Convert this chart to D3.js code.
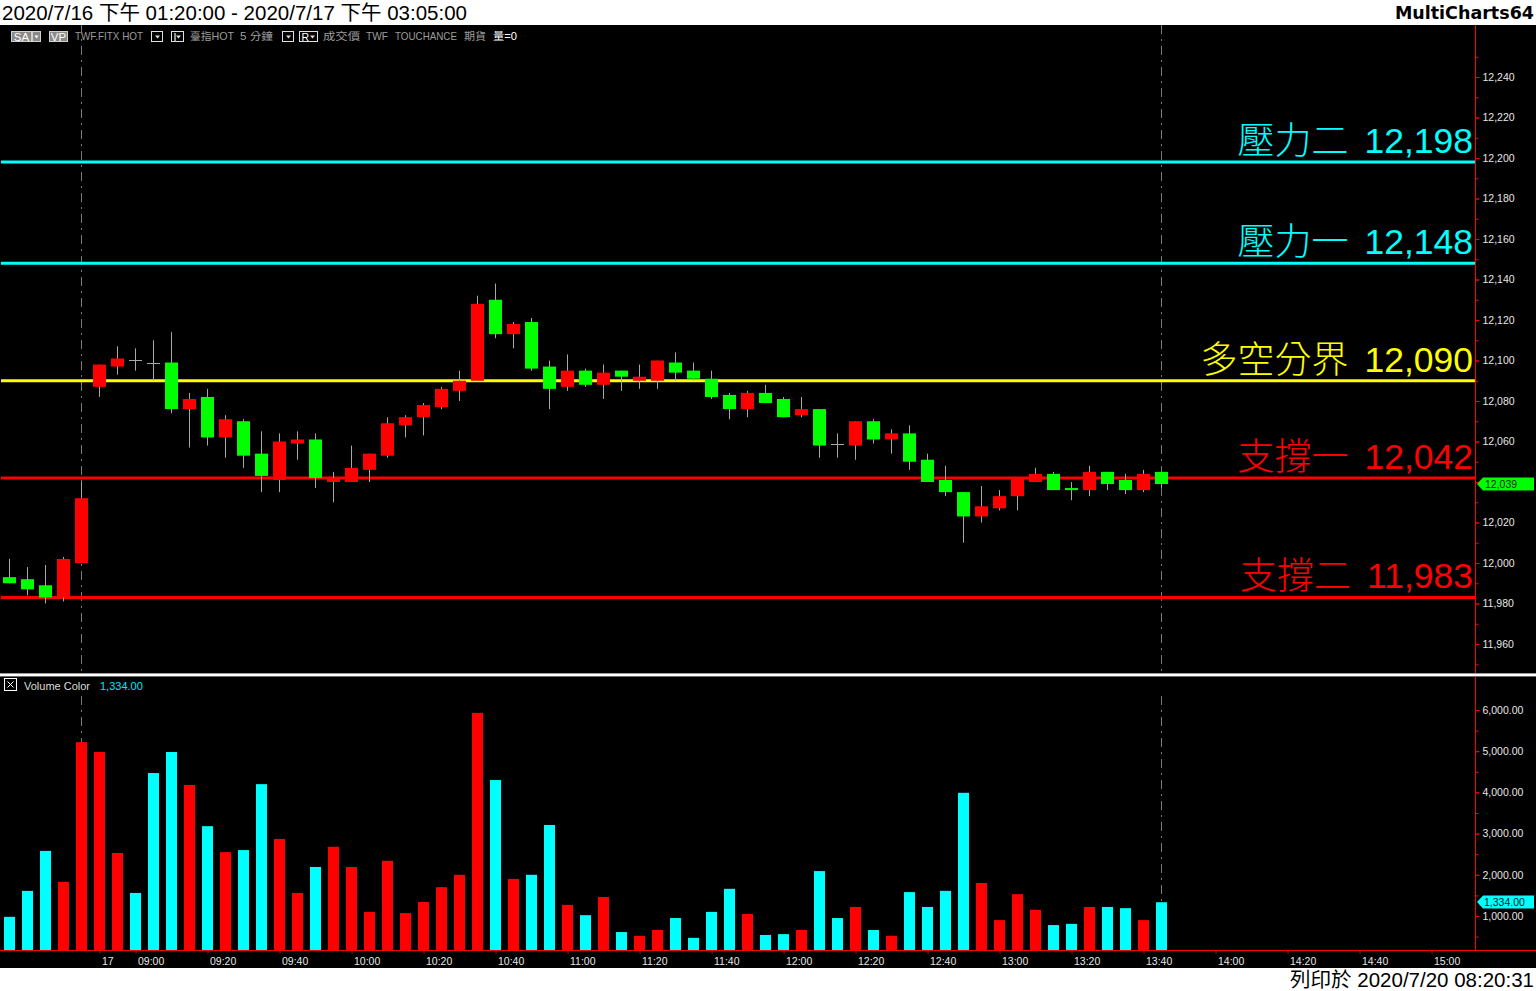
<!DOCTYPE html>
<html><head><meta charset="utf-8">
<script src="https://cdn.jsdelivr.net/npm/d3@7/dist/d3.min.js"></script>
<style>
html,body{margin:0;padding:0;background:#fff;overflow:hidden;}
svg{display:block;}
</style></head><body>
<svg id="c" width="1536" height="991"></svg>
<script>
// ---------------- DATA ----------------
const barTimes = ["13:25","13:30","13:35","13:40","13:45",
  "08:50","08:55","09:00","09:05","09:10","09:15","09:20","09:25","09:30","09:35","09:40","09:45","09:50","09:55",
  "10:00","10:05","10:10","10:15","10:20","10:25","10:30","10:35","10:40","10:45","10:50","10:55",
  "11:00","11:05","11:10","11:15","11:20","11:25","11:30","11:35","11:40","11:45","11:50","11:55",
  "12:00","12:05","12:10","12:15","12:20","12:25","12:30","12:35","12:40","12:45","12:50","12:55",
  "13:00","13:05","13:10","13:15","13:20","13:25","13:30","13:35","13:40","13:45"];
const openP  = [11993,11992,11989,11983,12000,12087,12097,12100,12099,12099,12076,12082,12062,12070,12054,12041,12059,12061,12040,12040,12046,12053,12068,12072,12077,12085,12090,12130,12113,12119,12097,12087,12095,12088,12095,12090,12090,12099,12095,12091,12083,12076,12084,12081,12073,12076,12059,12058,12070,12061,12064,12051,12041,12035,12023,12027,12033,12040,12044,12037,12036,12045,12041,12036,12045];
const highP  = [12002,11998,11999,12003,12040,12098,12107,12106,12110,12114,12084,12086,12073,12071,12065,12064,12065,12064,12045,12058,12054,12072,12073,12079,12087,12095,12132,12138,12119,12121,12100,12103,12096,12098,12095,12098,12100,12104,12099,12095,12084,12085,12088,12082,12082,12076,12064,12070,12071,12066,12068,12054,12048,12035,12038,12036,12042,12047,12045,12040,12048,12045,12044,12046,12045];
const lowP   = [11990,11984,11980,11981,12000,12082,12093,12095,12090,12074,12057,12058,12052,12047,12035,12035,12051,12037,12030,12040,12040,12052,12062,12063,12076,12080,12090,12111,12106,12095,12076,12085,12087,12081,12085,12086,12086,12090,12090,12081,12071,12072,12079,12072,12072,12052,12052,12051,12059,12054,12046,12040,12033,12010,12020,12026,12026,12040,12036,12031,12033,12036,12034,12035,12037];
const closeP = [11990,11987,11983,12002,12032,12098,12101,12100,12099,12076,12081,12062,12071,12053,12043,12060,12061,12042,12042,12047,12054,12069,12072,12078,12086,12090,12128,12113,12118,12096,12086,12095,12088,12094,12092,12092,12100,12094,12091,12082,12076,12084,12079,12072,12076,12058,12059,12070,12061,12064,12050,12040,12035,12023,12028,12033,12042,12044,12036,12036,12045,12039,12036,12044,12039];
const volumes = [980,1610,2580,1830,5220,4980,2530,1560,4470,4980,4180,3180,2550,2600,4200,2870,1560,2190,2680,2190,1100,2340,1070,1340,1700,2000,5930,4300,1900,2000,3210,1270,1020,1460,610,520,660,950,470,1100,1660,1050,540,560,660,2090,950,1220,660,520,1580,1220,1610,3990,1800,900,1530,1150,780,810,1220,1220,1190,900,1334];

const timeTickIndex  = [5,7,11,15,19,23,27,31,35,39,43,47,51,55,59,63,67,71,75,79];
const timeTickLabels = ["17","09:00","09:20","09:40","10:00","10:20","10:40","11:00","11:20","11:40","12:00","12:20","12:40","13:00","13:20","13:40","14:00","14:20","14:40","15:00"];
const priceTicks  = [11960,11980,12000,12020,12040,12060,12080,12100,12120,12140,12160,12180,12200,12220,12240];
const volumeTicks = [1000,2000,3000,4000,5000,6000];

const levelNames  = ["壓力二","壓力一","多空分界","支撐一","支撐二"];
const levelValues = [12198,12148,12090,12042,11983];

const lastPrice = 12039;
const lastVolume = 1334;

// ---------------- STYLE ----------------
const levelColors = ["#00ffff","#00ffff","#ffff00","#ff0000","#ff0000"];
const UP = "#ff0000", DOWN = "#00ff00", VUP = "#ff0000", VDOWN = "#00ffff";
const AXIS = "#ff0000", LBL = "#e6e6e6";
const FONT = "'Liberation Sans', Arial, 'Noto Sans CJK TC', sans-serif";
const CJK = "'Noto Sans CJK TC', 'Liberation Sans', sans-serif";

const svg = d3.select("#c");
const W = 1536, H = 991;
const AX = 1475.5;
const TOP = 25, SEP = 673, VTOP = 677, BASE = 950.5, BOT = 968;

svg.append("rect").attr("width", W).attr("height", H).attr("fill", "#fff");
svg.append("rect").attr("x",0).attr("y",TOP).attr("width",W).attr("height",BOT-TOP).attr("fill","#000");

const x = d3.scaleLinear().domain([-0.5, 81.5]).range([0.5, 1476.5]);
const yP = d3.scaleLinear().domain([12000, 12240]).range([563, 77]);
const yV = d3.scaleLinear().domain([1000, 6000]).range([916, 710]);

// ---------------- HEADER ----------------
svg.append("text").attr("x",2).attr("y",20).attr("font-family",FONT).attr("font-size",20.5)
  .attr("fill","#000").text("2020/7/16 下午 01:20:00 - 2020/7/17 下午 03:05:00");
svg.append("text").attr("x",1534).attr("y",19).attr("text-anchor","end")
  .attr("font-family","'DejaVu Sans', sans-serif").attr("font-weight","bold").attr("font-size",17.5)
  .attr("fill","#000").text("MultiCharts64");

// info bar
const info = svg.append("g").attr("font-family",FONT).attr("font-size",10.5);
function grayBox(x0,w,label){
  info.append("rect").attr("x",x0+0.5).attr("y",31.5).attr("width",w).attr("height",10).attr("fill","#8a8a8a").attr("stroke","#d0d0d0");
  info.append("text").attr("x",x0+w/2+0.5).attr("y",40.5).attr("text-anchor","middle").attr("fill","#fff").attr("font-size",11.5).text(label);
}
function ddBox(x0,w,label){
  info.append("rect").attr("x",x0+0.5).attr("y",31.5).attr("width",w).attr("height",10).attr("fill","#000").attr("stroke","#e0e0e0");
  const cx = x0 + w - 4.5;
  info.append("path").attr("d",`M${cx-2.5},35.5 L${cx+2.5},35.5 L${cx},38.5 Z`).attr("fill","#e0e0e0");
  if(label) info.append("text").attr("x",x0+2.5).attr("y",40.5).attr("fill","#fff").attr("font-size",10.5).text(label);
}
grayBox(11,20,"SA");
info.append("rect").attr("x",32.5).attr("y",31.5).attr("width",8).attr("height",10).attr("fill","#8a8a8a").attr("stroke","#d0d0d0");
info.append("path").attr("d","M34.5,35.5 L38.5,35.5 L36.5,38.5 Z").attr("fill","#fff");
grayBox(49,18,"VP");
const infoTexts = [[75,"TWF.FITX HOT",68],[190,"臺指HOT",44],[240,"5 分鐘",33],[323,"成交價",37],[366,"TWF",22],[395,"TOUCHANCE",62],[464,"期貨",22]];
infoTexts.forEach(([xx,t,w])=> info.append("text").attr("x",xx).attr("y",40).attr("fill","#9c9c9c")
  .attr("textLength",w).attr("lengthAdjust","spacingAndGlyphs").text(t));
info.append("text").attr("x",493).attr("y",40).attr("fill","#fff").attr("textLength",24).attr("lengthAdjust","spacingAndGlyphs").text("量=0");
ddBox(151,11,"");
ddBox(171,12,"I");
ddBox(282,11,"");
ddBox(299,18,"R");

// ---------------- PRICE PANEL ----------------
const pricePanel = svg.append("g");
[4,64].forEach(k=>{
  pricePanel.append("line").attr("x1",x(k)).attr("x2",x(k)).attr("y1",TOP).attr("y2",SEP)
    .attr("stroke","#7a7a7a").attr("stroke-width",1).attr("stroke-dasharray","9,5,2,5");
  pricePanel.append("line").attr("x1",x(k)).attr("x2",x(k)).attr("y1",696).attr("y2",BASE)
    .attr("stroke","#7a7a7a").attr("stroke-width",1).attr("stroke-dasharray","9,5,2,5");
});
levelValues.forEach((v,i)=>{
  pricePanel.append("line").attr("x1",1).attr("x2",AX).attr("y1",yP(v)).attr("y2",yP(v))
    .attr("stroke",levelColors[i]).attr("stroke-width",3);
});
const idx = d3.range(openP.length);
const cg = pricePanel.append("g");
cg.selectAll("line.wick").data(idx).join("line").attr("class","wick")
  .attr("x1",k=>x(k)).attr("x2",k=>x(k)).attr("y1",k=>yP(highP[k])).attr("y2",k=>yP(lowP[k]))
  .attr("stroke","#a8a8a8").attr("stroke-width",1);
cg.selectAll("rect.body").data(idx.filter(k=>openP[k]!==closeP[k])).join("rect").attr("class","body")
  .attr("x",k=>x(k)-6.5).attr("width",13)
  .attr("y",k=>yP(Math.max(openP[k],closeP[k])))
  .attr("height",k=>Math.max(1,Math.abs(yP(openP[k])-yP(closeP[k]))))
  .attr("fill",k=>closeP[k]>openP[k]?UP:DOWN);
cg.selectAll("line.doji").data(idx.filter(k=>openP[k]===closeP[k])).join("line").attr("class","doji")
  .attr("x1",k=>x(k)-6.5).attr("x2",k=>x(k)+6.5).attr("y1",k=>Math.round(yP(openP[k]))+0.5).attr("y2",k=>Math.round(yP(openP[k]))+0.5)
  .attr("stroke","#a8a8a8").attr("stroke-width",1);

levelValues.forEach((v,i)=>{
  const base = yP(v) - 9;
  const num = pricePanel.append("text").attr("x",1473).attr("y",base).attr("text-anchor","end")
    .attr("font-family",FONT).attr("font-size",35.5).attr("fill",levelColors[i]).text(d3.format(",")(v));
  const wNum = num.node().getComputedTextLength();
  pricePanel.append("text").attr("x",1473 - wNum - 16).attr("y",base + 1).attr("text-anchor","end")
    .attr("font-family",CJK).attr("font-weight",300).attr("font-size",37).attr("fill",levelColors[i]).text(levelNames[i]);
});

// price axis
svg.append("line").attr("x1",AX).attr("x2",AX).attr("y1",TOP).attr("y2",SEP).attr("stroke",AXIS);
const pAxis = svg.append("g").attr("transform",`translate(${AX},0)`)
  .call(d3.axisRight(yP).tickValues(priceTicks).tickFormat(d3.format(",")).tickSize(4).tickPadding(3));
const pMinor = svg.append("g").attr("transform",`translate(${AX},0)`)
  .call(d3.axisRight(yP).tickValues(d3.range(11950,12260,10)).tickFormat("").tickSize(3));
[pAxis,pMinor].forEach(g=>{
  g.select(".domain").remove();
  g.selectAll("line").attr("stroke",AXIS);
  g.selectAll("text").attr("fill",LBL).attr("font-family",FONT).attr("font-size",10.5);
});
{
  const yy = Math.round(yP(lastPrice));
  svg.append("path").attr("d",`M1477,${yy} L1483,${yy-6.5} L1534,${yy-6.5} L1534,${yy+6.5} L1483,${yy+6.5} Z`).attr("fill","#00ff00");
  svg.append("text").attr("x",1485).attr("y",yy+4).attr("font-family",FONT).attr("font-size",10.5).attr("fill","#1a1a1a").text(d3.format(",")(lastPrice));
}

// separator
svg.append("rect").attr("x",0).attr("y",SEP).attr("width",W).attr("height",1).attr("fill","#9a9a9a");
svg.append("rect").attr("x",0).attr("y",SEP+1).attr("width",W).attr("height",2).attr("fill","#ffffff");
svg.append("rect").attr("x",0).attr("y",SEP+3).attr("width",W).attr("height",1).attr("fill","#6a6a6a");

// ---------------- VOLUME PANEL ----------------
const vg = svg.append("g");
vg.selectAll("rect.vol").data(idx).join("rect").attr("class","vol")
  .attr("x",k=>x(k)-5.5).attr("width",11)
  .attr("y",k=>yV(volumes[k])).attr("height",k=>BASE - yV(volumes[k]))
  .attr("fill",k=>closeP[k]>openP[k]?VUP:VDOWN);

svg.append("rect").attr("x",4.5).attr("y",678.5).attr("width",12).attr("height",12).attr("fill","none").attr("stroke","#fff");
svg.append("path").attr("d","M7.5,681.5 L13.5,687.5 M13.5,681.5 L7.5,687.5").attr("stroke","#fff");
svg.append("text").attr("x",24).attr("y",690).attr("font-family",FONT).attr("font-size",11).attr("fill","#dcdcdc").text("Volume Color");
svg.append("text").attr("x",100).attr("y",690).attr("font-family",FONT).attr("font-size",11).attr("fill","#00e5ff").text(d3.format(",.2f")(lastVolume));

svg.append("line").attr("x1",AX).attr("x2",AX).attr("y1",VTOP).attr("y2",BASE).attr("stroke",AXIS);
const vAxis = svg.append("g").attr("transform",`translate(${AX},0)`)
  .call(d3.axisRight(yV).tickValues(volumeTicks).tickFormat(d3.format(",.2f")).tickSize(4).tickPadding(3));
const vMinor = svg.append("g").attr("transform",`translate(${AX},0)`)
  .call(d3.axisRight(yV).tickValues(d3.range(500,6001,500)).tickFormat("").tickSize(3));
[vAxis,vMinor].forEach(g=>{
  g.select(".domain").remove();
  g.selectAll("line").attr("stroke",AXIS);
  g.selectAll("text").attr("fill",LBL).attr("font-family",FONT).attr("font-size",10.5);
});
{
  const yy = Math.round(yV(lastVolume));
  svg.append("path").attr("d",`M1477,${yy} L1483,${yy-6.5} L1534,${yy-6.5} L1534,${yy+6.5} L1483,${yy+6.5} Z`).attr("fill","#00ffff");
  svg.append("text").attr("x",1484).attr("y",yy+4).attr("font-family",FONT).attr("font-size",10.5).attr("fill","#1a1a1a").text(d3.format(",.2f")(lastVolume));
}

// ---------------- TIME AXIS ----------------
svg.append("line").attr("x1",0).attr("x2",W).attr("y1",BASE).attr("y2",BASE).attr("stroke",AXIS);
const tAxis = svg.append("g").attr("transform",`translate(0,${BASE})`)
  .call(d3.axisBottom(x).tickValues(timeTickIndex).tickFormat((d,i)=>timeTickLabels[i]).tickSize(3).tickPadding(4));
tAxis.select(".domain").remove();
tAxis.selectAll("line").attr("stroke",AXIS);
tAxis.selectAll("text").attr("fill",LBL).attr("font-family",FONT).attr("font-size",10.5)
  .attr("text-anchor","start").attr("x",2);

svg.append("text").attr("x",1534).attr("y",987).attr("text-anchor","end").attr("font-family",FONT)
  .attr("font-size",20.5).attr("fill","#000").text("列印於 2020/7/20 08:20:31");
</script>
</body></html>
